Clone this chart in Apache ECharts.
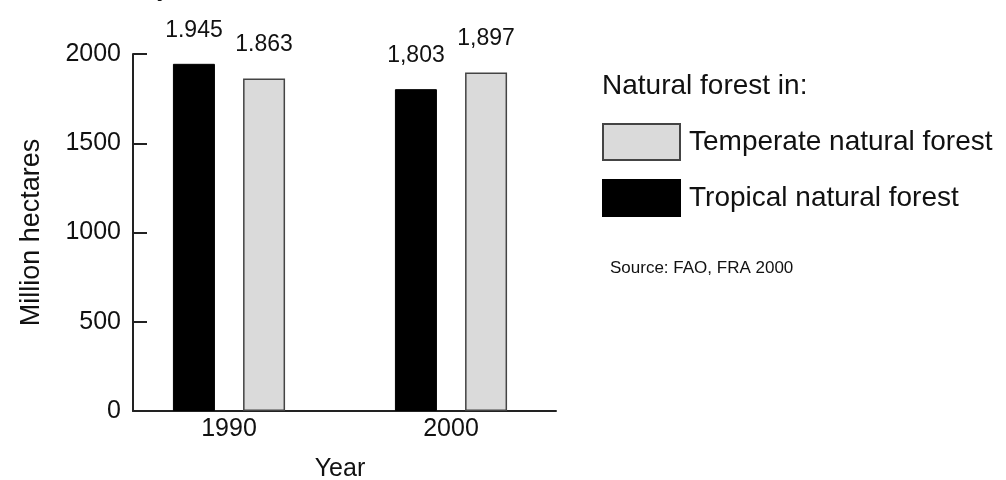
<!DOCTYPE html>
<html>
<head>
<meta charset="utf-8">
<script src="https://cdn.jsdelivr.net/npm/echarts@6/dist/echarts.min.js"></script>
<style>
  html, body { margin: 0; padding: 0; background: #fff; }
  #chart { width: 1006px; height: 480px; }
</style>
</head>
<body>
<div id="chart"></div>
<script>
const years = ["1990", "2000"]
const tropical = [1945, 1803]
const temperate = [1863, 1897]
const tropicalLabels = ["1.945", "1,803"]
const temperateLabels = ["1.863", "1,897"]
const yTicks = [0, 500, 1000, 1500, 2000]

const font = "'Liberation Sans', Arial, sans-serif"

let myChart = echarts.init(document.getElementById("chart"))

const barLabel = (labels) => ({
  show: true,
  position: "top",
  distance: 22,
  fontSize: 23,
  fontFamily: font,
  color: "#111",
  formatter: (p) => labels[p.dataIndex],
})

myChart.setOption({
  animation: false,
  textStyle: { fontFamily: font, color: "#111" },
  grid: [
    // bars
    { left: 118, right: 444, top: 54, bottom: 69, outerBoundsMode: "none" },
    // visible axes frame
    { left: 133, right: 450, top: 54, bottom: 69, outerBoundsMode: "none" },
  ],
  legend: {
    data: ["Temperate natural forest", "Tropical natural forest"],
    orient: "vertical",
    left: 602,
    top: 123,
    padding: 0,
    itemWidth: 77,
    itemHeight: 36,
    itemGap: 18,
    icon: "rect",
    textStyle: { fontFamily: font, fontSize: 28, color: "#111", padding: [0, 0, 0, 4] },
  },
  graphic: [
    {
      type: "text",
      left: 602,
      top: 72,
      style: { text: "Natural forest in:", font: "28px " + font, fill: "#111" },
    },
    {
      type: "text",
      left: 610,
      top: 260,
      style: { text: "Source: FAO, FRA 2000", font: "17px " + font, fill: "#111" },
    },
    {
      type: "text",
      left: 160,
      top: -26,
      style: { text: "y", font: "italic 28px 'Liberation Serif', serif", fill: "#111" },
    },
  ],
  xAxis: [
    {
      type: "category",
      gridIndex: 0,
      data: years,
      name: "Year",
      nameLocation: "middle",
      nameGap: 46,
      nameTextStyle: { fontSize: 25, color: "#111" },
      axisLine: { show: false },
      axisTick: { show: false },
      axisLabel: { fontSize: 25, color: "#111", margin: 6 },
    },
    {
      type: "value",
      gridIndex: 1,
      min: 0,
      max: 1,
      axisLine: { show: true, lineStyle: { color: "#222", width: 2 } },
      axisTick: { show: false },
      axisLabel: { show: false },
      splitLine: { show: false },
    },
  ],
  yAxis: [
    {
      type: "value",
      gridIndex: 0,
      min: 0,
      max: 2000,
      interval: 500,
      show: false,
    },
    {
      type: "value",
      gridIndex: 1,
      min: 0,
      max: 2000,
      interval: 500,
      name: "Million hectares",
      nameLocation: "middle",
      nameGap: 88,
      nameTextStyle: { fontSize: 27, color: "#111" },
      axisLine: { show: true, lineStyle: { color: "#222", width: 2 } },
      axisTick: { show: true, inside: true, length: 14, lineStyle: { color: "#222", width: 2 } },
      splitLine: { show: false },
      axisLabel: {
        fontSize: 25,
        color: "#111",
        margin: 12,
        formatter: (v) => (yTicks.includes(v) ? String(v) : ""),
      },
    },
  ],
  series: [
    {
      name: "Tropical natural forest",
      type: "bar",
      xAxisIndex: 0,
      yAxisIndex: 0,
      data: tropical,
      barWidth: 42,
      barGap: "67%",
      itemStyle: { color: "#000", borderColor: "#000", borderWidth: 1 },
      label: barLabel(tropicalLabels),
    },
    {
      name: "Temperate natural forest",
      type: "bar",
      xAxisIndex: 0,
      yAxisIndex: 0,
      data: temperate,
      barWidth: 42,
      itemStyle: { color: "#dadada", borderColor: "#444", borderWidth: 1.5 },
      label: barLabel(temperateLabels),
    },
  ],
})

window.addEventListener("resize", () => {
  myChart.resize()
})
</script>
</body>
</html>
